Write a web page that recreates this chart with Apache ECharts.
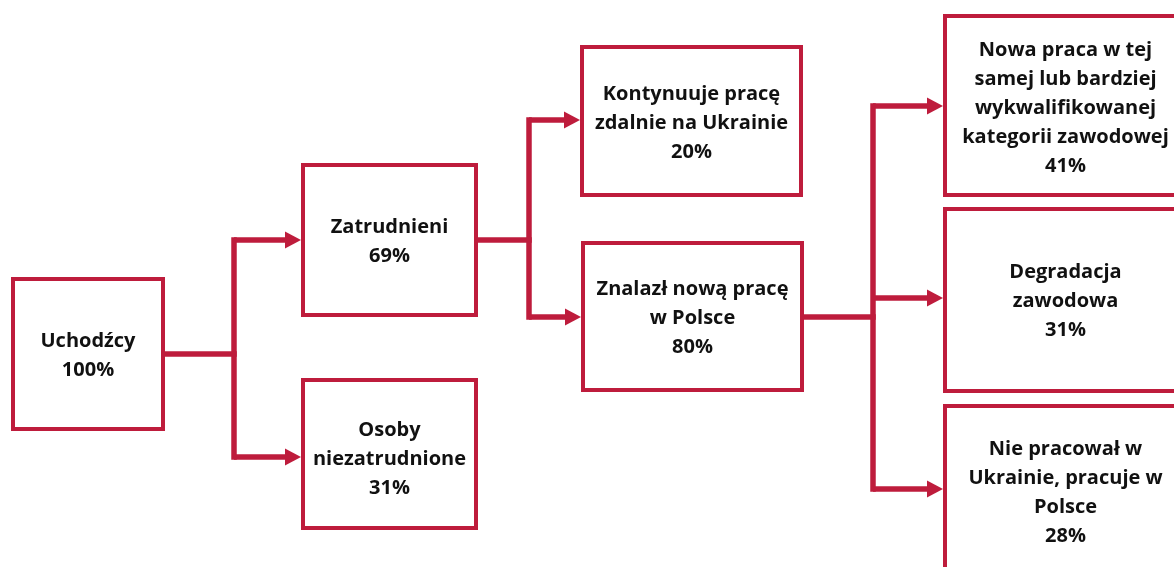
<!DOCTYPE html>
<html>
<head>
<meta charset="utf-8">
<script src="https://cdn.jsdelivr.net/npm/echarts@6/dist/echarts.min.js"></script>
<style>
html,body{margin:0;padding:0;background:#fff;}
#chart{width:1174px;height:567px;}
</style>
</head>
<body>
<div id="chart"></div>
<script>
// ---- data ----
const nodeNames = [
  'Uchodźcy',
  'Zatrudnieni',
  'Osoby\nniezatrudnione',
  'Kontynuuje pracę\nzdalnie na Ukrainie',
  'Znalazł nową pracę\nw Polsce',
  'Nowa praca w tej\nsamej lub bardziej\nwykwalifikowanej\nkategorii zawodowej',
  'Degradacja\nzawodowa',
  'Nie pracował w\nUkrainie, pracuje w\nPolsce'
];
const nodeShares = [100, 69, 31, 20, 80, 41, 31, 28];
const nodeParents = [-1, 0, 0, 1, 1, 4, 4, 4];

// ---- layout (axis units == pixels) ----
// box rectangle [x0, y0, x1, y1] (stroke centre), port y for connectors
const boxRects = [
  [13, 279, 163, 429],
  [303, 165, 476, 315],
  [303, 380, 476, 528],
  [582, 47, 801, 195],
  [583, 243, 802, 390],
  [945, 16, 1186, 195],
  [945, 209, 1186, 391],
  [945, 406, 1186, 578]
];
const portY = [354, 240, 457, 120, 317, 106, 298, 489];
const trunkX = {0: 234, 1: 529, 4: 873};
const textOffsetY = [2, 2, 5, 2, 2, 3, 1, 1];

const RED = '#BE1C3C';

const boxData = nodeNames.map((n, i) => [boxRects[i][0], boxRects[i][1], boxRects[i][2], boxRects[i][3], i]);

const connData = Object.keys(trunkX).map(p => {
  p = +p;
  const kids = nodeParents.map((q, i) => q === p ? i : -1).filter(i => i >= 0);
  return {p: p, kids: kids};
});

const chart = echarts.init(document.getElementById('chart'), null, {renderer: 'canvas'});

chart.setOption({
  animation: false,
  grid: {left: 0, right: 0, top: 0, bottom: 0},
  xAxis: {type: 'value', min: 0, max: 1174, show: false},
  yAxis: {type: 'value', min: 0, max: 567, inverse: true, show: false},
  series: [
    {
      type: 'custom',
      coordinateSystem: 'cartesian2d',
      data: connData.map((c, i) => [i]),
      renderItem: function (params, api) {
        const c = connData[params.dataIndex];
        const p = c.p;
        const src = api.coord([boxRects[p][2] + 2, portY[p]]);
        const tx = api.coord([trunkX[p], 0])[0];
        const ys = c.kids.map(k => api.coord([0, portY[k]])[1]);
        const minY = Math.min.apply(null, ys), maxY = Math.max.apply(null, ys);
        const children = [];
        const lineStyle = {stroke: RED, lineWidth: 5.5, fill: null, lineCap: 'butt'};
        children.push({type: 'line', shape: {x1: src[0], y1: src[1], x2: tx + 2.75, y2: src[1]}, style: lineStyle});
        children.push({type: 'line', shape: {x1: tx, y1: minY - 2.75, x2: tx, y2: maxY + 2.75}, style: lineStyle});
        c.kids.forEach(k => {
          const end = api.coord([boxRects[k][0] - 2, portY[k]]);
          const headLen = 16, headHalf = 8.5;
          children.push({type: 'line', shape: {x1: tx, y1: end[1], x2: end[0] - headLen + 1, y2: end[1]}, style: lineStyle});
          children.push({type: 'polygon', shape: {points: [[end[0] - headLen, end[1] - headHalf], [end[0], end[1]], [end[0] - headLen, end[1] + headHalf]]}, style: {fill: RED}});
        });
        return {type: 'group', children: children};
      },
      silent: true,
      z: 1
    },
    {
      type: 'custom',
      coordinateSystem: 'cartesian2d',
      data: boxData,
      encode: {x: [0, 2], y: [1, 3]},
      renderItem: function (params, api) {
        const i = api.value(4);
        const a = api.coord([api.value(0), api.value(1)]);
        const b = api.coord([api.value(2), api.value(3)]);
        const cx = (a[0] + b[0]) / 2, cy = (a[1] + b[1]) / 2 + textOffsetY[i];
        return {
          type: 'group',
          children: [
            {type: 'rect', shape: {x: a[0], y: a[1], width: b[0] - a[0], height: b[1] - a[1]},
             style: {fill: '#fff', stroke: RED, lineWidth: 4}},
            {type: 'text', x: cx, y: cy,
             style: {text: nodeNames[i] + '\n' + nodeShares[i] + '%', fill: '#111', align: 'center', verticalAlign: 'middle',
                     font: 'bold 20px "Open Sans"', lineHeight: 29}}
          ]
        };
      },
      silent: true,
      z: 2
    }
  ]
});
</script>
</body>
</html>
